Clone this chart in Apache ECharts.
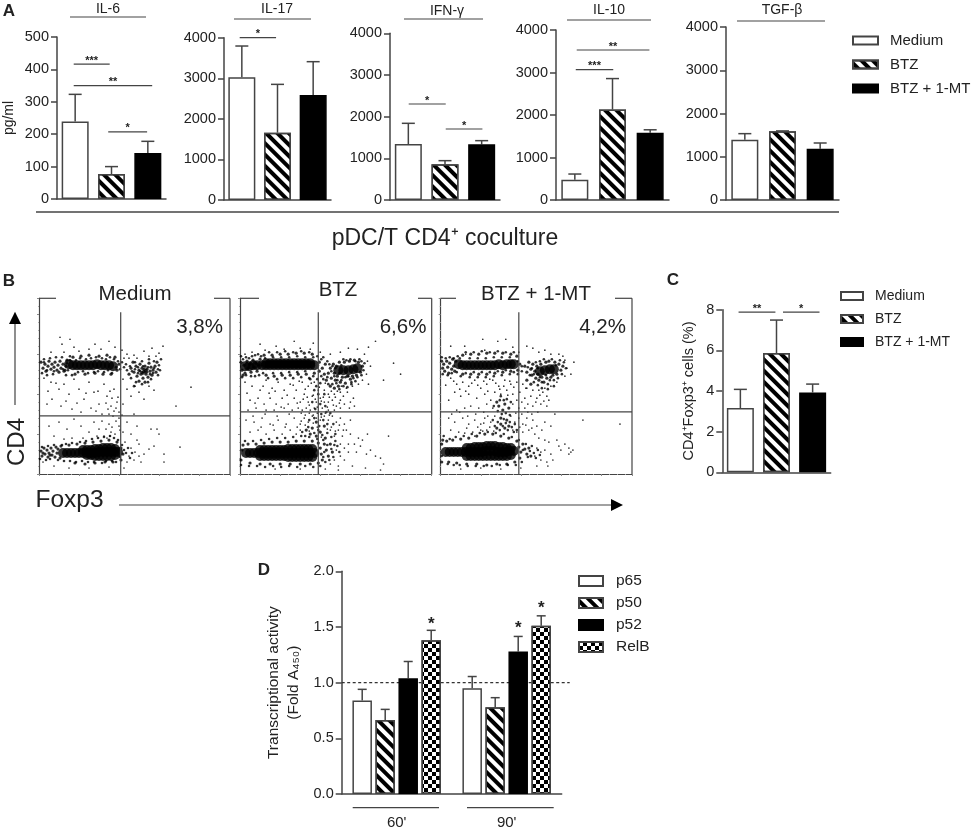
<!DOCTYPE html>
<html>
<head>
<meta charset="utf-8">
<title>pDC/T CD4+ coculture</title>
<script src="https://cdn.jsdelivr.net/npm/echarts@6/dist/echarts.min.js"></script>
<style>
  html, body { margin: 0; padding: 0; background: #fff; }
  #chart { width: 972px; height: 831px; }
</style>
</head>
<body>
<div id="chart"></div>
<script>
// panel A + C
const treatments = ['Medium', 'BTZ', 'BTZ + 1-MT']
const il6Means = [239, 77, 142]
const il6Tops = [323, 100, 178]
const il17Means = [3023, 1659, 2587]
const il17Tops = [3795, 2850, 3409]
const ifnMeans = [1344, 856, 1336]
const ifnTops = [1840, 944, 1424]
const il10Means = [478, 2129, 1581]
const il10Tops = [611, 2857, 1652]
const tgfMeans = [1395, 1588, 1187]
const tgfTops = [1534, 1597, 1318]
const foxp3Means = [3.16, 5.87, 3.93]
const foxp3Tops = [4.08, 7.49, 4.34]

// significance bars: [from, to, level, stars], from/to in bar slots
const il6Sig = [[0.46, 1.45, 416, '***'], [0.46, 2.62, 350, '**'], [1.41, 2.48, 207, '*']]
const il17Sig = [[0.44, 1.46, 4000, '*']]
const ifnSig = [[0.51, 1.52, 2304, '*'], [1.52, 2.52, 1704, '*']]
const il10Sig = [[0.525, 1.52, 3068, '***'], [0.55, 2.48, 3530, '**']]
const foxp3Sig = [[0.45, 1.47, 7.88, '**'], [1.68, 2.69, 7.88, '*']]

// panel D
const timepoints = ["60'", "90'"]
const factors = ['p65', 'p50', 'p52', 'RelB']
const factorMeans = [[0.84, 0.95], [0.665, 0.78], [1.04, 1.28], [1.38, 1.51]]
const factorTops = [[0.94, 1.055], [0.76, 0.865], [1.19, 1.415], [1.47, 1.60]]
const factorStars = [[null, null], [null, null], [null, 1.49], [1.52, 1.67]]
const foldBaseline = 1

// panel B, events, in plot channels (0-191, 0-176)
const mediumCore = [[30,110],[34,109],[38,109],[42,109],[46,109],[50,109],[54,109],[58,110],[62,109],[66,109],[70,109],[74,108],
  [24,21],[28,21],[32,21],[36,21],[40,21],[44,21],[48,21],[52,21],[56,21],[60,22],[64,22],[68,22],[72,22],[76,22],[79,22],
  [44,24],[48,24],[52,24],[56,25],[60,25],[64,26],[68,26],[72,26],[76,25],
  [48,19],[52,19],[56,18],[60,18],[64,18],[68,18],[72,18],[76,19]]
const mediumMid = [[2,112],[4,106],[6,110],[7,103],[9,108],[10,113],[12,105],[13,110],[15,107],[16,112],[18,104],[19,109],[21,113],[22,106],[24,110],[25,103],[27,108],[28,114],[26,104],[20,102],
  [2,23],[3,18],[5,26],[6,20],[8,24],[9,17],[10,21],[12,26],[13,19],[14,23],[16,17],[17,27],[18,21],[19,25],[21,16],[22,28],[4,21],[11,19],
  [34,117],[42,118],[50,119],[60,118],[68,119],[76,117],[36,100],[46,100],[56,101],[64,100],[72,100],[78,104],[80,110],
  [30,29],[38,30],[46,31],[54,32],[62,33],[70,34],[78,32],[82,26],[84,20],[36,11],[46,10],[56,11],[66,12],[74,12],[82,14],
  [92,106],[95,102],[97,108],[98,98],[100,104],[101,110],[102,100],[103,106],[104,96],[105,103],[106,108],[107,100],[108,105],[109,97],[110,111],[111,103],[112,107],[113,99],[114,104],[116,108],[117,102],[118,112],[100,93],[106,92],[90,100],[94,112],[104,101],[105,105],[103,102],[107,104]]
const mediumFringe = [[3,101],[5,115],[8,99],[11,116],[14,100],[17,117],[23,117],[27,99],[31,118],[33,99],[37,114],[39,102],[41,116],[44,103],[47,115],[49,101],[52,116],[55,102],[57,117],[59,103],[63,116],[65,102],[67,115],[69,104],[71,117],[73,101],[75,115],[77,107],[79,113],[81,105],[83,112],[85,107],[87,110],[29,104],[31,114],[28,111],[24,105],[15,103],[8,104],[5,112],
  [1,15],[3,27],[7,14],[9,28],[11,15],[15,29],[19,14],[23,29],[25,13],[27,30],[31,13],[33,31],[37,12],[41,32],[43,13],[47,33],[49,12],[53,35],[55,12],[59,36],[63,11],[65,37],[67,13],[71,38],[73,13],[75,36],[77,12],[79,34],[81,17],[83,29],[85,24],[87,21],[89,26],[91,16],[93,21],
  [88,104],[91,108],[93,103],[96,105],[99,101],[99,107],[101,103],[104,108],[106,102],[108,102],[109,107],[111,100],[112,95],[114,101],[115,106],[119,105],[120,109],[119,99],[96,112],[103,113],[110,115],[115,113],[92,96],[97,92],[103,90],[109,92],[95,88],[122,115],[121,104]]
const mediumDots = [[21,137],[31,135],[23,130],[35,127],[50,125],[56,130],[70,133],[12,122],[25,122],[40,123],[62,125],[76,127],[83,124],[88,120],[95,119],[105,123],[113,126],[124,128],[120,121],[117,118],[110,118],[85,116],[90,116],[98,116],
  [5,96],[12,92],[20,85],[13,75],[25,90],[30,80],[35,95],[40,85],[45,75],[50,92],[55,82],[60,70],[65,90],[68,78],[72,68],[75,85],[78,72],[80,62],[84,95],[88,85],[92,78],[96,88],[100,82],[105,75],[110,88],[115,84],[152,87],[137,68],[8,70],[22,68],[33,65],[42,62],[52,66],[63,60],[70,60],[77,66],[74,58],[80,56],[84,70],[95,60],
  [10,48],[20,52],[28,45],[35,55],[42,48],[50,42],[55,52],[60,45],[65,38],[70,50],[72,42],[76,40],[80,48],[84,42],[88,52],[92,40],[98,48],[112,45],[118,45],[120,40],[15,38],[25,35],[33,36],[44,36],[58,38],[68,36],[141,27],[125,20],[125,12],[100,30],[96,22],[90,18],[88,12],[95,14],[100,18],[105,20],[102,12],[92,26],[86,32],[98,34],[110,25],[115,28],[4,12],[15,8],[30,6],[50,6],[70,7],[85,6],
  [67,71],[71,83],[73,76],[69,65],[75,63],[77,53],[79,77],[81,44],[83,59],[73,47],[67,45],[63,53],[71,38],[59,83],[47,81],[17,91],[9,83],[27,73],[38,71],[57,63]]

const btzCore = [[5,108],[9,108],[13,109],[17,109],[22,109],[26,109],[30,109],[34,109],[38,109],[42,109],[46,109],[50,109],[54,109],[58,109],[62,109],[66,109],[70,109],[74,109],
  [26,111],[30,111],[34,111],[38,111],[42,111],[46,111],[50,111],[54,111],[58,111],[62,111],[66,111],[70,111],
  [6,21],[10,21],[14,21],[18,21],[22,21],[26,21],[30,21],[34,21],[38,21],[42,21],[46,21],[50,21],[54,21],[58,21],[62,21],[66,21],[70,21],[74,21],
  [20,24],[24,24],[28,24],[32,24],[36,24],[40,24],[44,24],[48,25],[52,25],[56,25],[60,25],[64,25],[68,25],[72,25],
  [20,18],[24,18],[28,18],[32,18],[36,18],[40,18],[44,18],[48,17],[52,17],[56,17],[60,17],[64,17],[68,17],[72,17],
  [98,104],[103,104],[108,104],[113,105],[117,106]]
const btzMid = [[1,112],[2,104],[4,109],[5,101],[7,113],[8,106],[10,110],[11,102],[13,114],[14,107],[16,111],[17,103],[19,109],[20,115],[3,99],
  [24,119],[32,119],[40,120],[48,120],[56,121],[64,121],[72,120],[26,99],[34,98],[42,99],[50,99],[58,100],[66,100],[74,101],[79,103],[79,112],[82,106],[84,100],[85,110],
  [88,101],[90,106],[91,96],[93,110],[94,101],[95,94],[96,108],[97,98],[99,112],[100,92],[102,97],[104,112],[105,91],[107,98],[109,113],[110,95],[112,98],[114,114],[116,99],[118,112],[120,102],[122,108],[86,94],[90,88],[94,86],[98,88],
  [1,14],[2,24],[3,29],[8,30],[16,30],[24,31],[32,32],[40,32],[48,32],[56,33],[64,33],[72,33],[78,31],[80,26],[81,20],[82,14],[78,11],[70,10],[60,10],[50,10],[40,10],[30,10],[20,10],[10,11],[84,30],[86,24],[88,18],[85,36],[90,30],[92,22],[76,38],[70,40],[66,44],[72,46],[80,42],[84,48],[76,52]]
const btzFringe = [[1,118],[3,115],[6,117],[9,116],[12,118],[15,119],[18,120],[21,118],[25,116],[29,122],[33,117],[37,122],[41,117],[45,123],[49,117],[53,122],[57,118],[61,123],[65,117],[69,122],[73,117],[77,118],[81,115],[83,117],[87,113],[89,110],[2,97],[6,99],[11,98],[15,98],[19,99],[23,101],[28,96],[33,101],[37,95],[41,101],[45,96],[49,102],[53,96],[57,102],[61,97],[65,103],[69,96],[73,98],[77,95],[81,98],[83,95],[87,97],
  [91,103],[92,108],[94,98],[95,106],[97,94],[99,101],[101,94],[101,109],[103,115],[105,97],[106,114],[108,98],[110,115],[111,92],[113,96],[115,113],[117,97],[119,115],[121,99],[121,113],[123,104],[124,111],[92,90],[96,91],[99,85],[103,88],[107,87],[111,90],[115,93],
  [1,9],[5,33],[9,8],[13,33],[17,8],[21,34],[25,7],[29,35],[33,8],[37,36],[41,7],[45,36],[49,8],[53,37],[57,7],[61,38],[65,8],[69,37],[73,7],[77,35],[80,8],[83,34],[84,22],[83,17],[85,12],[87,29],[89,14],[91,25],[93,17],[94,29],[95,33],[97,28],[99,22],[82,39],[87,41],[91,37],[95,40],[78,44],[74,41],[68,47],[65,38],[62,42],[79,48],[83,54],[87,50],[74,56],[69,54],[81,60],[86,62],[75,65],[80,70],[85,68],[90,61],[93,50],[72,72],[78,80],[84,80],[88,90],[80,91],[76,88],[70,95],[74,84]]
const btzDots = [[20,130],[36,128],[54,133],[73,131],[60,126],[44,125],[25,124],[12,122],[5,120],[70,125],[80,122],[90,120],[100,122],[108,126],[117,125],[128,127],[135,133],[124,120],[127,113],[130,108],[126,100],[122,94],[118,90],[112,88],[106,86],[100,82],[94,80],[88,80],
  [153,111],[160,100],[128,90],[143,94],[5,92],[12,88],[20,84],[26,94],[32,86],[38,92],[44,84],[50,90],[56,84],[62,92],[68,88],[74,92],[78,84],[84,84],[10,74],[18,76],[24,70],[30,76],[36,70],[42,76],[48,70],[54,76],[60,72],[64,80],[68,72],[72,78],[76,72],[80,76],[84,72],[88,72],[92,74],[96,68],[100,74],[104,70],[110,72],[114,68],
  [8,64],[16,66],[26,64],[34,64],[44,66],[52,64],[58,66],[62,64],[66,66],[70,64],[74,66],[82,66],[88,64],[94,64],[100,66],[6,54],[14,52],[22,56],[30,50],[38,54],[46,50],[54,56],[60,50],[64,56],[68,52],[72,58],[76,56],[80,54],[84,58],[88,54],[92,58],[96,52],[100,56],[104,50],[110,54],
  [10,42],[18,44],[26,40],[34,44],[42,40],[50,44],[56,40],[60,44],[90,44],[94,38],[98,44],[102,38],[106,44],[110,40],[114,30],[118,36],[122,34],[127,40],[100,30],[104,26],[108,22],[96,24],[100,18],[104,14],[94,14],[90,10],[98,8],[108,30],[116,22],[120,28],[126,20],[130,24],[135,18],[140,16],[143,10],[148,38],[125,6],[112,8],[98,4],[140,4],[85,5],[60,5],[35,5],
  [7,81],[15,71],[23,88],[29,81],[35,83],[41,67],[47,79],[53,89],[57,71],[59,93],[63,75],[65,85],[67,77],[69,69],[71,91],[73,79],[75,75],[77,67],[79,87],[81,73],[83,77],[85,91],[87,67],[89,77],[91,83],[93,69],[95,77],[97,83],[99,71],[101,88],[103,78],[107,82],[109,66],[113,76],[61,61],[65,59],[69,61],[73,59],[77,61],[81,57],[85,61],[89,59],[57,47],[61,53],[65,49],[69,43],[73,51],[77,47],[81,37],[87,45],[91,47],[95,43],[99,49],[103,44],[45,47],[33,49],[21,47],[13,58],[25,60],[37,58],[49,60]]

const comboCore = [[18,110],[22,109],[26,109],[30,109],[34,109],[38,109],[42,109],[46,109],[50,109],[54,109],[58,110],[62,109],[66,110],[70,110],[73,110],
  [5,22],[9,22],[13,22],[17,22],[21,22],[25,22],[29,22],[33,22],[37,22],[41,22],[45,23],[49,23],[53,23],[57,22],[61,22],[65,22],[69,23],[73,23],
  [26,26],[30,26],[34,27],[38,27],[42,27],[46,28],[50,28],[54,28],[58,27],[62,27],[66,26],[70,26],
  [26,18],[30,18],[34,18],[38,18],[42,18],[46,18],[50,18],[54,18],[58,18],[62,18],[66,18],[70,19],
  [99,103],[104,104],[109,105],[113,105]]
const comboMid = [[1,113],[2,106],[3,110],[4,103],[6,113],[7,107],[8,101],[9,111],[11,105],[12,115],[13,108],[15,113],[14,103],
  [22,119],[30,120],[38,120],[46,121],[54,121],[62,121],[70,120],[76,118],[22,100],[30,100],[38,100],[46,100],[54,101],[62,102],[70,103],[77,104],[79,110],
  [84,108],[86,102],[88,112],[90,105],[91,99],[92,110],[94,103],[95,96],[96,108],[97,100],[98,94],[100,110],[101,97],[103,92],[105,112],[106,96],[108,113],[110,97],[112,99],[114,112],[116,100],[118,110],[120,104],[122,108],[86,94],[90,90],
  [1,12],[1,30],[2,34],[6,33],[12,34],[20,35],[28,36],[36,38],[44,40],[52,40],[60,38],[68,36],[76,33],[78,27],[80,22],[79,16],[74,12],[66,10],[56,10],[46,9],[36,10],[26,10],[16,11],[8,12],[82,30],[84,25],[86,20],[88,26],[90,18],[56,46],[60,50],[64,46],[66,54],[60,56],[68,48],[62,64],[58,68],[64,70],[68,66],[56,72]]
const comboFringe = [[1,117],[5,116],[9,117],[13,116],[17,118],[19,116],[25,122],[29,116],[33,122],[37,116],[41,123],[45,116],[49,122],[53,117],[57,123],[61,117],[65,122],[69,117],[73,122],[77,113],[81,108],[2,100],[7,99],[11,101],[16,102],[20,98],[25,101],[29,97],[33,102],[37,97],[41,102],[45,97],[49,102],[53,98],[57,103],[61,99],[65,104],[69,100],[73,102],[77,100],[81,103],
  [87,107],[89,99],[91,106],[93,100],[95,112],[97,106],[99,97],[99,113],[101,92],[103,115],[105,99],[107,90],[109,94],[111,115],[113,94],[115,109],[117,96],[119,114],[121,100],[123,112],[125,106],[93,92],[97,89],[101,86],[107,85],[113,88],
  [1,18],[3,38],[7,10],[9,35],[13,9],[15,37],[19,9],[23,38],[27,8],[31,40],[35,8],[39,41],[43,8],[47,42],[51,8],[55,41],[59,9],[63,40],[67,9],[71,37],[75,9],[78,34],[81,12],[82,24],[85,30],[87,17],[89,23],[91,28],[93,21],[95,16],[97,24],[99,19],[57,52],[59,44],[62,48],[63,55],[65,51],[67,44],[69,52],[71,47],[73,42],[61,60],[65,61],[69,59],[57,63],[59,74],[63,74],[66,75],[70,72],[60,78],[53,68],[52,54],[54,48],[74,50],[76,44]]
const comboDots = [[25,120],[10,128],[24,128],[44,124],[42,135],[57,133],[65,135],[72,127],[78,122],[86,128],[92,126],[98,122],[104,124],[110,120],[118,120],[122,118],[124,114],[126,106],[130,100],[133,112],[124,98],[116,92],[110,88],[104,86],[98,84],[92,84],[86,86],
  [10,96],[16,90],[22,92],[28,88],[34,94],[40,86],[46,90],[52,94],[58,88],[64,94],[70,90],[76,92],[82,90],[14,82],[20,78],[28,80],[36,76],[44,80],[50,74],[54,82],[60,80],[66,84],[72,80],[76,74],[84,76],[90,78],[96,76],[102,82],[106,78],[8,74],[30,68],[38,66],[46,70],[52,66],[72,70],[78,66],[84,66],[92,68],[100,70],[106,68],[108,74],[24,66],[16,64],
  [8,56],[14,52],[22,56],[28,50],[34,54],[40,50],[44,56],[50,52],[54,58],[70,58],[74,52],[78,56],[82,50],[86,56],[92,54],[96,48],[104,52],[110,48],[114,60],[142,54],[179,50],[10,44],[18,42],[26,46],[32,42],[40,44],[46,44],[72,44],[76,42],[82,42],[88,44],[94,40],[98,36],[104,34],[108,32],[116,34],[118,28],[120,24],[124,30],[128,26],[130,22],[96,26],[100,22],[104,24],[94,18],[100,14],[106,12],[110,20],[112,14],[128,20],[132,24],[107,8],[96,8],[80,6],[60,5],[40,6],[20,5],
  [5,89],[13,93],[19,85],[25,83],[31,91],[37,89],[43,93],[47,83],[49,95],[55,91],[59,85],[63,88],[67,79],[69,93],[73,87],[79,82],[85,86],[81,72],[87,70],[95,72],[99,79],[103,73],[11,60],[19,62],[27,58],[35,60],[43,62],[47,58],[75,61],[81,60],[87,62],[91,60],[97,62],[37,47],[43,51],[49,47],[53,43],[79,47],[85,49],[91,46],[101,44],[34,38],[42,43],[24,41]]

const flowNames = ['Medium', 'BTZ', 'BTZ + 1-MT']
const flowCore = [mediumCore, btzCore, comboCore]
const flowMid = [mediumMid, btzMid, comboMid]
const flowFringe = [mediumFringe, btzFringe, comboFringe]
const flowDots = [mediumDots, btzDots, comboDots]
const flowGates = [[81.7, 58.3], [78, 62.3], [78, 62.3]]

const INK = '#444'
const TEXT = '#222'
const FONT = '"Liberation Sans", Arial, sans-serif'

const stripes = { symbol: 'rect', symbolSize: 1, dashArrayX: [1, 0], dashArrayY: [4, 4], rotation: Math.PI / 4, color: '#000' }
const checks = { symbol: 'rect', symbolSize: 1, dashArrayX: [[4, 4], [0, 4, 4, 0]], dashArrayY: [4, 0], color: '#000' }
const treatmentStyles = [
  { color: '#fff', borderColor: INK, borderWidth: 1.5 },
  { color: '#fff', borderColor: INK, borderWidth: 1.5, decal: stripes },
  { color: '#000', borderColor: '#000', borderWidth: 1.5 }
]
const factorStyles = [...treatmentStyles, { color: '#fff', borderColor: INK, borderWidth: 1.5, decal: checks }]

const grids = []
const xAxes = []
const yAxes = []
const series = []

const addGrid = box => {
  grids.push({ left: box[0], top: box[1], width: box[2] - box[0], height: box[3] - box[1], outerBoundsMode: 'none' })
  return grids.length - 1
}

const addAxes = (box, cats, yMax, yStep, yName, nameGap, nameSize) => {
  const idx = addGrid(box)
  xAxes.push({
    gridIndex: idx,
    type: 'category',
    data: cats,
    axisLine: { lineStyle: { color: INK, width: 1.5 } },
    axisTick: { show: false },
    axisLabel: { show: false }
  })
  yAxes.push({
    gridIndex: idx,
    type: 'value',
    min: 0,
    max: yMax,
    interval: yStep,
    name: yName,
    nameLocation: 'middle',
    nameRotate: 90,
    nameGap: nameGap,
    nameTextStyle: { color: TEXT, fontFamily: FONT, fontSize: nameSize, lineHeight: 20 },
    axisLine: { show: true, lineStyle: { color: INK, width: 1.5 } },
    axisTick: { show: true, length: 6, lineStyle: { color: INK, width: 1.5 } },
    axisLabel: { color: TEXT, fontFamily: FONT, fontSize: 14.5, margin: 8, formatter: v => String(v) },
    splitLine: { show: false }
  })
  return idx
}

// whisker above each bar, shifted sideways by `shift` px for clustered bars
const addWhiskers = (idx, tops, capWidth, shift) => {
  series.push({
    type: 'custom',
    xAxisIndex: idx,
    yAxisIndex: idx,
    silent: true,
    z: 1,
    data: tops.map(d => [d[0], d[1], d[2]]),
    renderItem: (params, api) => {
      const i = api.value(0)
      const top = api.coord([i, api.value(2)])
      const base = api.coord([i, api.value(1)])
      const x = top[0] + shift
      const style = { stroke: INK, lineWidth: 1.5, fill: null }
      return {
        type: 'group',
        children: [
          { type: 'line', shape: { x1: x, y1: base[1], x2: x, y2: top[1] }, style },
          { type: 'line', shape: { x1: x - capWidth / 2, y1: top[1], x2: x + capWidth / 2, y2: top[1] }, style }
        ]
      }
    }
  })
}

const addSigBars = (idx, sigs) => {
  if (!sigs.length) return
  series.push({
    type: 'custom',
    xAxisIndex: idx,
    yAxisIndex: idx,
    silent: true,
    data: sigs.map(s => [0, s[2]]),
    renderItem: (params, api) => {
      const s = sigs[params.dataIndex]
      const cs = params.coordSys
      const band = cs.width / 3
      const y = api.coord([0, api.value(1)])[1]
      const x1 = cs.x + s[0] * band
      const x2 = cs.x + s[1] * band
      return {
        type: 'group',
        children: [
          { type: 'line', shape: { x1, y1: y, x2, y2: y }, style: { stroke: INK, lineWidth: 1.2 } },
          { type: 'text', style: { x: (x1 + x2) / 2, y: y - 3.5, text: s[3], align: 'center', verticalAlign: 'middle', fill: TEXT, font: `bold 11px ${FONT}` } }
        ]
      }
    }
  })
}

const addTreatmentPanel = (box, means, tops, sigs, yMax, yStep, yName, nameGap, nameSize) => {
  const idx = addAxes(box, treatments, yMax, yStep, yName, nameGap, nameSize)
  treatments.forEach((name, t) => {
    series.push({
      name,
      type: 'bar',
      xAxisIndex: idx,
      yAxisIndex: idx,
      stack: 'panel' + idx,
      barWidth: 27,
      silent: true,
      itemStyle: treatmentStyles[t],
      data: means.map((v, i) => (i === t ? v : null))
    })
  })
  addWhiskers(idx, tops.map((v, i) => [i, means[i], v]), 13, 0)
  addSigBars(idx, sigs)
}

addTreatmentPanel([57, 37, 166, 199], il6Means, il6Tops, il6Sig, 500, 100, 'pg/ml', 38, 14)
addTreatmentPanel([224, 37.7, 331, 200], il17Means, il17Tops, il17Sig, 4000, 1000, '', 0, 14)
addTreatmentPanel([390, 33.3, 500, 200], ifnMeans, ifnTops, ifnSig, 4000, 1000, '', 0, 14)
addTreatmentPanel([556, 30, 669, 200], il10Means, il10Tops, il10Sig, 4000, 1000, '', 0, 14)
addTreatmentPanel([726, 27, 839, 200], tgfMeans, tgfTops, [], 4000, 1000, '', 0, 14)
addTreatmentPanel([722.3, 309.7, 830.7, 472.3], foxp3Means, foxp3Tops, foxp3Sig, 8, 2, 'CD4\u207AFoxp3\u207A cells (%)', 23, 14.5)

// panel D
const factorIdx = addAxes([341.7, 571.3, 561.7, 794], timepoints, 2, 0.5, 'Transcriptional activity\n(Fold A\u2084\u2085\u2080)', 38, 15.5)
xAxes[factorIdx].axisLabel = { show: true, color: TEXT, fontFamily: FONT, fontSize: 15, margin: 21 }
yAxes[factorIdx].axisLabel.formatter = v => v.toFixed(1)
factors.forEach((name, f) => {
  series.push({
    name,
    type: 'bar',
    xAxisIndex: factorIdx,
    yAxisIndex: factorIdx,
    barWidth: 19.5,
    barGap: '18%',
    silent: true,
    itemStyle: factorStyles[f],
    data: factorMeans[f]
  })
  const shift = (f - 1.5) * 23
  addWhiskers(factorIdx, factorTops[f].map((v, i) => [i, factorMeans[f][i], v]), 9, shift)
  series.push({
    type: 'custom',
    xAxisIndex: factorIdx,
    yAxisIndex: factorIdx,
    silent: true,
    data: factorStars[f].map((v, i) => [i, v]).filter(d => d[1] !== null),
    renderItem: (params, api) => {
      const p = api.coord([api.value(0), api.value(1)])
      return { type: 'text', style: { x: p[0] + shift, y: p[1], text: '*', align: 'center', verticalAlign: 'middle', fill: TEXT, font: `bold 17px ${FONT}` } }
    }
  })
})
series.push({
  type: 'custom',
  xAxisIndex: factorIdx,
  yAxisIndex: factorIdx,
  silent: true,
  data: [[0, foldBaseline]],
  renderItem: (params, api) => {
    const y = api.coord([0, api.value(1)])[1]
    const cs = params.coordSys
    return { type: 'line', shape: { x1: cs.x, y1: y, x2: cs.x + cs.width + 8, y2: y }, style: { stroke: '#333', lineWidth: 1.2, lineDash: [3, 2.5] } }
  }
})

// panel B
const flowBoxes = [[39, 298.3, 230, 474], [240, 298.3, 431.7, 474], [440.7, 298.3, 632, 474]]
const flowAxis = {
  axisLine: { lineStyle: { color: INK, width: 1.2 } },
  axisLabel: { show: false },
  splitLine: { show: false },
  axisTick: { show: true, length: 2, lineStyle: { color: '#888', width: 1 } },
  minorTick: { show: true, length: 1, splitNumber: 5, lineStyle: { color: '#aaa', width: 1 } }
}
flowBoxes.forEach((box, p) => {
  const idx = addGrid(box)
  xAxes.push({ gridIndex: idx, type: 'value', min: 0, max: 191, interval: 40, ...flowAxis })
  yAxes.push({ gridIndex: idx, type: 'value', min: 0, max: 176, interval: 40, ...flowAxis, axisLine: { show: true, lineStyle: flowAxis.axisLine.lineStyle } })
  const dots = (data, size) => ({
    name: flowNames[p] + ' events',
    type: 'scatter',
    xAxisIndex: idx,
    yAxisIndex: idx,
    silent: true,
    symbolSize: size,
    itemStyle: { color: '#000' },
    data
  })
  series.push(dots(flowDots[p], 1.7), dots(flowFringe[p], 2.6), dots(flowMid[p], 3.2), dots(flowCore[p], 10))
  series.push({
    type: 'custom',
    xAxisIndex: idx,
    yAxisIndex: idx,
    silent: true,
    z: 3,
    data: [flowGates[p]],
    renderItem: (params, api) => {
      const cs = params.coordSys
      const a = api.coord([api.value(0), 162])
      const b = api.coord([api.value(0), 0])
      const c = api.coord([0, api.value(1)])
      const d = api.coord([191, api.value(1)])
      const style = { stroke: INK, lineWidth: 1.2 }
      return {
        type: 'group',
        children: [
          { type: 'line', shape: { x1: a[0], y1: a[1], x2: b[0], y2: b[1] }, style },
          { type: 'line', shape: { x1: c[0], y1: c[1], x2: d[0], y2: d[1] }, style },
          { type: 'line', shape: { x1: cs.x + cs.width, y1: cs.y, x2: cs.x + cs.width, y2: cs.y + cs.height }, style }
        ]
      }
    }
  })
})

const label = (text, x, y, size, extra) => ({
  type: 'text',
  x,
  y,
  silent: true,
  style: { text, fill: TEXT, font: `${size}px ${FONT}`, align: 'center', verticalAlign: 'middle', ...extra }
})
const rule = (x1, y1, x2, y2, width) => ({
  type: 'line',
  silent: true,
  shape: { x1, y1, x2, y2 },
  style: { stroke: INK, lineWidth: width || 1.2 }
})

const graphics = [
  label('A', 9, 11, 17, { font: `bold 17px ${FONT}` }),
  label('B', 9, 281, 17, { font: `bold 17px ${FONT}` }),
  label('C', 673, 280, 17, { font: `bold 17px ${FONT}` }),
  label('D', 264, 570, 17, { font: `bold 17px ${FONT}` }),
  label('IL-6', 108, 9, 14),
  rule(70, 17, 146, 17),
  label('IL-17', 277, 9, 14),
  rule(234, 19, 311, 19),
  label('IFN-\u03B3', 447, 11, 14),
  rule(404, 19, 483, 19),
  label('IL-10', 609, 10, 14),
  rule(567, 20, 651, 20),
  label('TGF-\u03B2', 782, 10, 14),
  rule(737, 21, 825, 21),
  rule(36, 212, 839, 212, 1.4),
  label('pDC/T CD4\u207A coculture', 445, 239, 23),
  // panel B frame
  label('Medium', 135, 294, 20.5),
  label('BTZ', 338, 290, 20.5),
  label('BTZ + 1-MT', 536, 294, 20.5),
  label('3,8%', 199.5, 327, 20.5),
  label('6,6%', 403, 327, 20.5),
  label('4,2%', 602.5, 327, 20.5),
  rule(39, 298.3, 56, 298.3), rule(214, 298.3, 230, 298.3),
  rule(240, 298.3, 259, 298.3), rule(418, 298.3, 431.7, 298.3),
  rule(440.7, 298.3, 456, 298.3), rule(615, 298.3, 632, 298.3),
  { ...label('CD4', 0, 0, 24), x: 17, y: 442, rotation: Math.PI / 2 },
  label('Foxp3', 69.5, 500, 24.5),
  rule(15, 405, 15, 322, 1.2),
  { type: 'polygon', silent: true, shape: { points: [[15, 311.7], [9, 324], [21, 324]] }, style: { fill: '#000' } },
  rule(119, 505, 613, 505, 1.2),
  { type: 'polygon', silent: true, shape: { points: [[623, 505], [611, 499], [611, 511]] }, style: { fill: '#000' } },
  // panel D group rules
  rule(352.7, 807.7, 439, 807.7),
  rule(467, 807.7, 553.7, 807.7)
]

const legend = (names, left, top, gap, w, h, size, textGap) => ({
  data: names,
  orient: 'vertical',
  left,
  top,
  itemGap: gap,
  itemWidth: w,
  itemHeight: h,
  icon: 'rect',
  selectedMode: false,
  padding: 0,
  textStyle: { color: TEXT, fontFamily: FONT, fontSize: size, padding: [0, 0, 0, textGap] }
})

const chart = echarts.init(document.getElementById('chart'))
chart.setOption({
  animation: false,
  backgroundColor: '#fff',
  grid: grids,
  xAxis: xAxes,
  yAxis: yAxes,
  series,
  legend: [
    legend(treatments, 852, 33, 9, 25, 8, 15, 7),
    legend(treatments, 840, 289, 9, 22, 8, 14, 7),
    legend(factors, 578, 573, 6, 24, 10, 15.5, 8)
  ],
  graphic: { elements: graphics }
})
</script>
</body>
</html>
